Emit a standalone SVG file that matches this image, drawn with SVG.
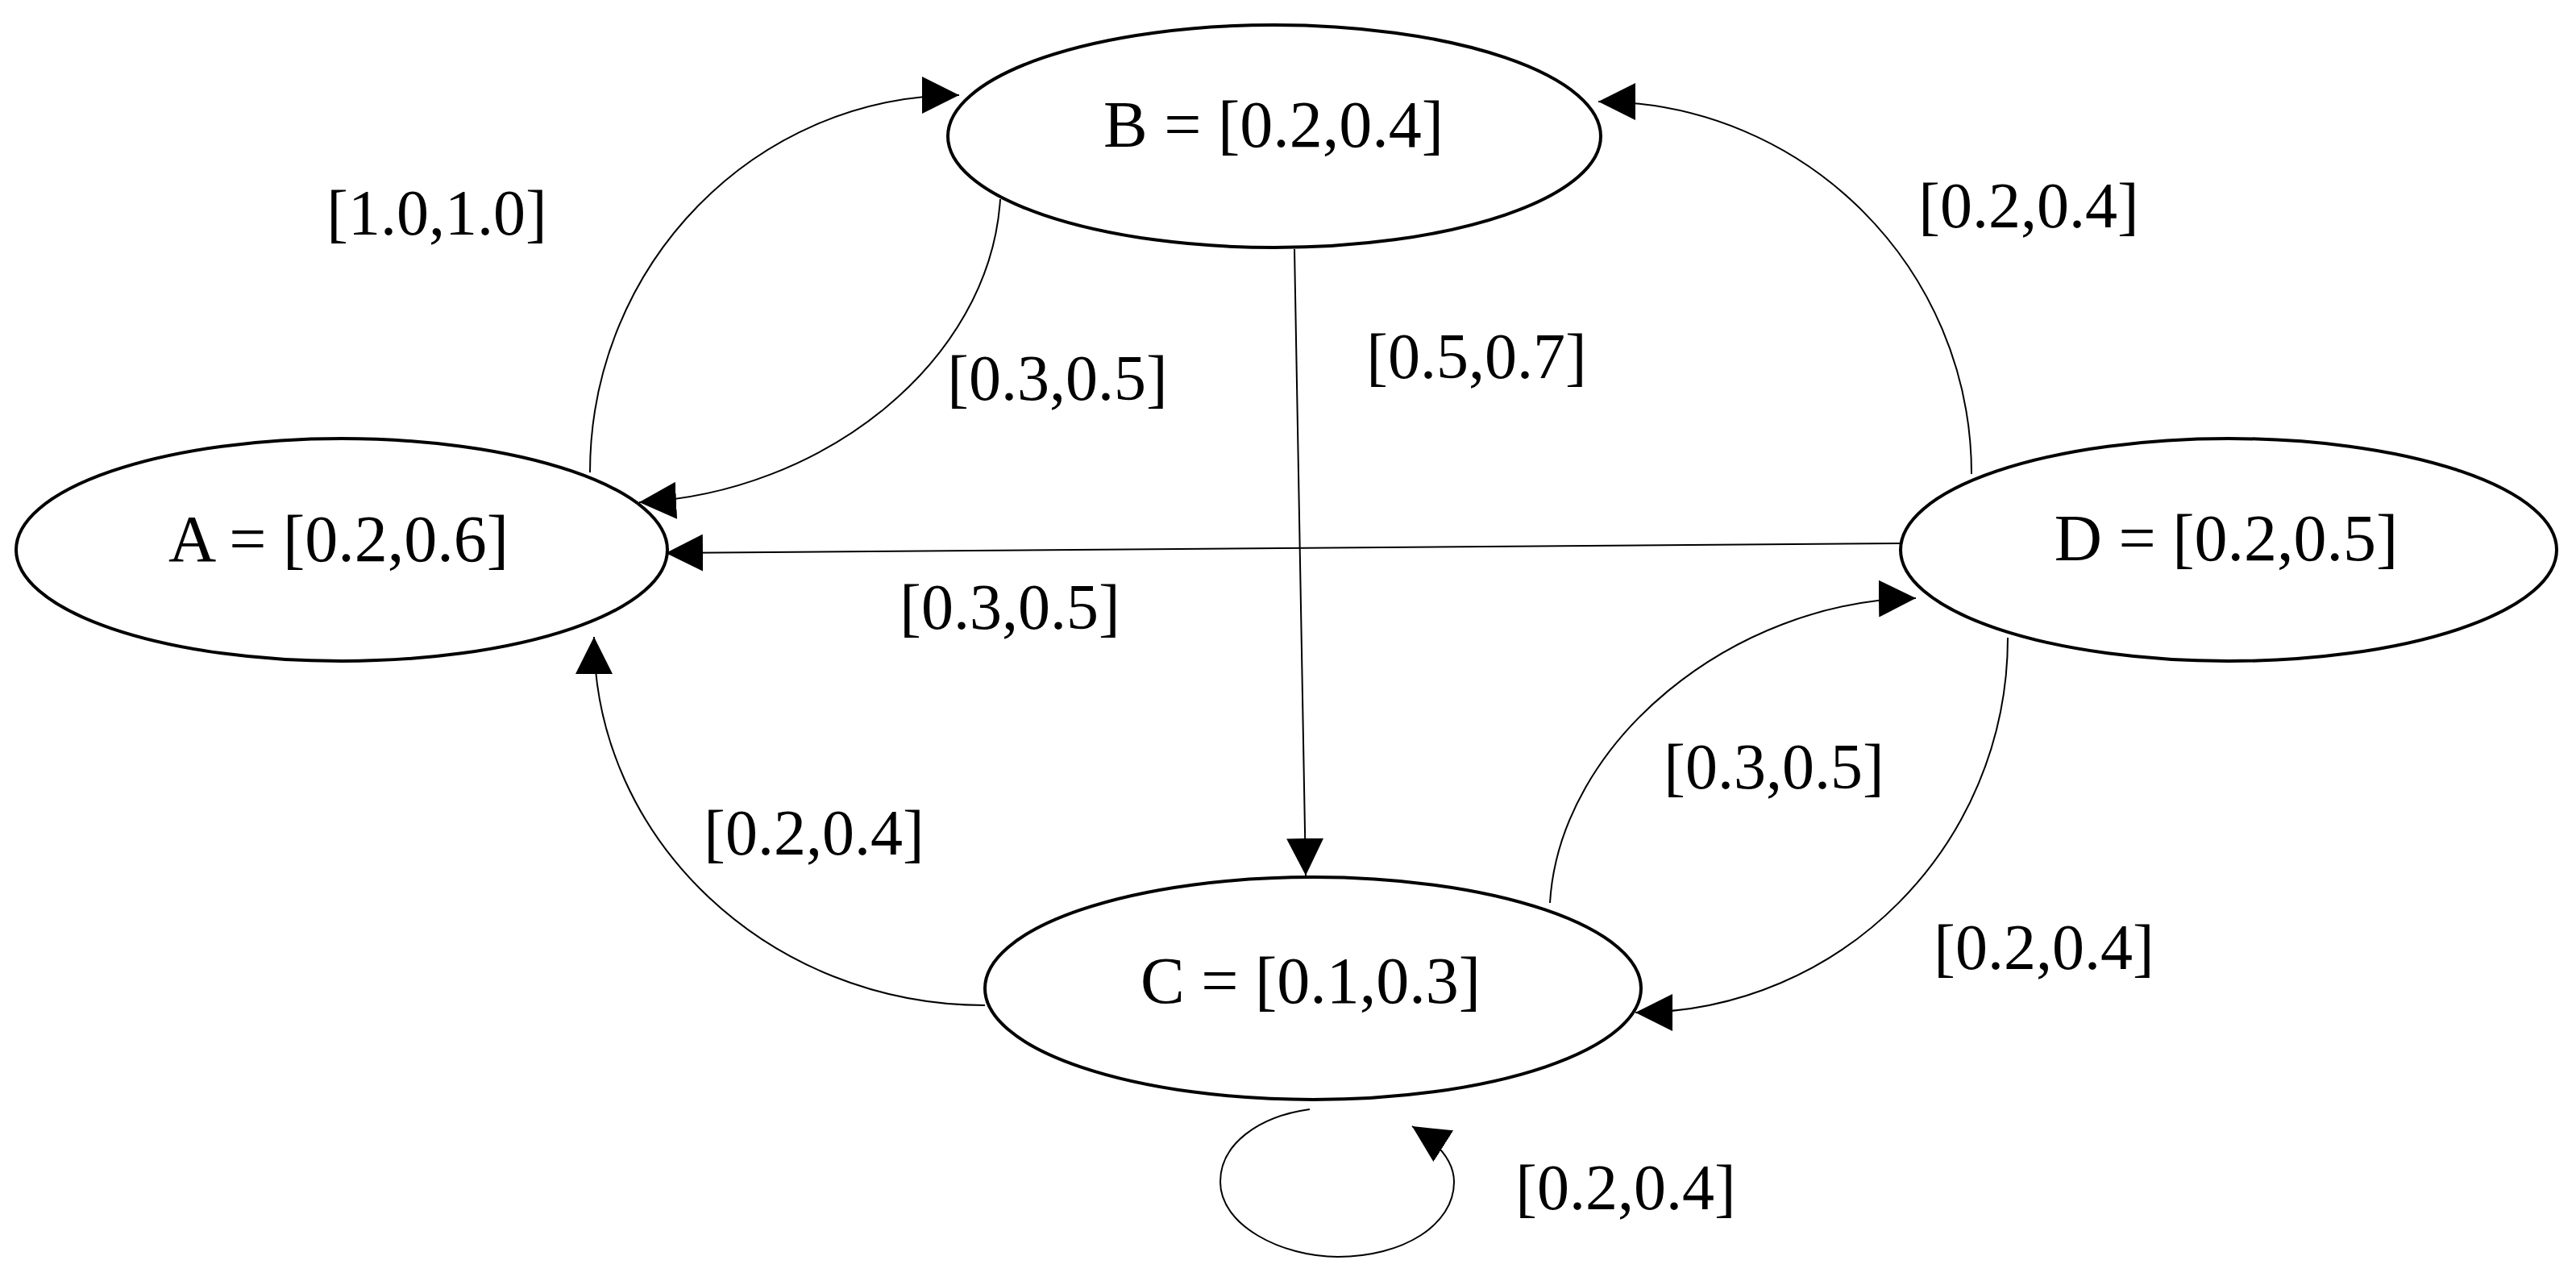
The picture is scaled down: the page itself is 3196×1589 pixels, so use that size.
<svg xmlns="http://www.w3.org/2000/svg" width="3196" height="1589" viewBox="0 0 3196 1589">
<style>
.node ellipse{fill:#fff;stroke:#000;stroke-width:4}
.node text{font-family:"Liberation Serif","Times New Roman",serif;font-size:82px;text-anchor:middle;fill:#000}
.edge{fill:none;stroke:#000;stroke-width:2;marker-end:url(#arr)}
.lbl{font-family:"Liberation Serif","Times New Roman",serif;font-size:80px;text-anchor:middle;fill:#000}
</style>
<defs>
<marker id="arr" markerUnits="userSpaceOnUse" markerWidth="46" markerHeight="46" refX="46" refY="23" orient="auto" viewBox="0 0 46 46">
<path d="M0,0 L46,23 L0,46 z" fill="#000"/>
</marker>
</defs>
<rect width="3196" height="1589" fill="#fff"/>
<g id="connectors">
<path class="edge" d="M732 586 C732 328 937 118 1190 118"/>
<path class="edge" d="M1241 247 C1228 450 1020 612 793 623"/>
<path class="edge" d="M1606 309 L1620 1086"/>
<path class="edge" d="M2358 674 L826 686"/>
<path class="edge" d="M2446 588 C2446 333 2239 126 1983 126"/>
<path class="edge" d="M1222 1247 C955 1247 737 1042 737 790"/>
<path class="edge" d="M1923 1120 C1935 920 2150 745 2377 742"/>
<path class="edge" d="M2491 791 C2491 1048 2284 1256 2029 1256"/>
<path class="edge" d="M1625 1376 C1560 1385 1514 1420 1514 1466 C1514 1520 1590 1559 1660 1559 C1740 1559 1804 1520 1804 1466 C1804 1440 1785 1418 1752 1397"/>
<text class="lbl" x="542" y="291">[1.0,1.0]</text>
<text class="lbl" x="1312" y="496">[0.3,0.5]</text>
<text class="lbl" x="1832" y="469">[0.5,0.7]</text>
<text class="lbl" x="1253" y="780">[0.3,0.5]</text>
<text class="lbl" x="2517" y="282">[0.2,0.4]</text>
<text class="lbl" x="1010" y="1060">[0.2,0.4]</text>
<text class="lbl" x="2201" y="978">[0.3,0.5]</text>
<text class="lbl" x="2536" y="1202">[0.2,0.4]</text>
<text class="lbl" x="2017" y="1500">[0.2,0.4]</text>
</g>
<g id="node-A" class="node"><ellipse cx="424" cy="682" rx="404" ry="138"/><text x="420" y="696">A = [0.2,0.6]</text></g>
<g id="node-B" class="node"><ellipse cx="1581" cy="169" rx="405" ry="138"/><text x="1580" y="182">B = [0.2,0.4]</text></g>
<g id="node-C" class="node"><ellipse cx="1629" cy="1226" rx="407" ry="138"/><text x="1626" y="1244">C = [0.1,0.3]</text></g>
<g id="node-D" class="node"><ellipse cx="2765" cy="682" rx="407" ry="138"/><text x="2762" y="695">D = [0.2,0.5]</text></g>
</svg>
